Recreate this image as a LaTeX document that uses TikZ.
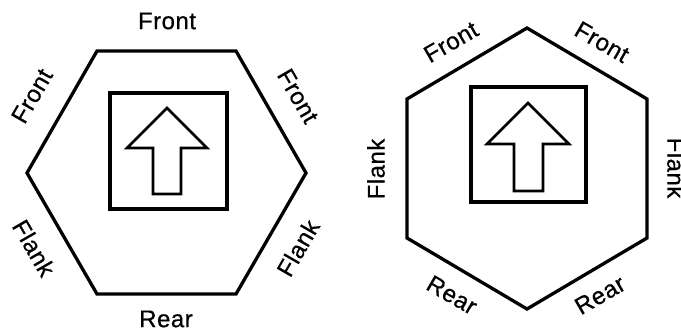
\documentclass[tikz,border=0pt]{standalone}
\usepackage{fontspec}
\setmainfont[LetterSpace=2,FakeBold=0.6]{Liberation Sans}
\usetikzlibrary{positioning}

\tikzset{
  hexline/.style={line width=3.3pt, line join=miter},
  boxline/.style={line width=3.2pt},
  arrowline/.style={line width=2.8pt, line join=miter},
  side/.style={font=\fontsize{24}{24}\selectfont, inner sep=0pt}
}

\begin{document}
\begin{tikzpicture}[x=1pt, y=-1pt]
  \useasboundingbox[fill=white] (0,0) rectangle (681,329);

  %% Left hexagon (flat top)
  \coordinate (l1) at (97,51);
  \coordinate (l2) at (236,51);
  \coordinate (l3) at (306,173);
  \coordinate (l4) at (236,294);
  \coordinate (l5) at (97,294);
  \coordinate (l6) at (27,173);
  \draw[hexline] (l1) -- (l2) -- (l3) -- (l4) -- (l5) -- (l6) -- cycle;
  \draw[boxline] (110,93) rectangle (227,209);
  \draw[arrowline] (167,108) -- (207,148) -- (181,148) -- (181,194)
    -- (153,194) -- (153,148) -- (127,148) -- cycle;

  %% Left labels
  \node[side] (lfront) at (167,21) {Front};
  \node[side, rotate=60] (lfrontl) at (32,96) {Front};
  \node[side, rotate=-60] (lfrontr) at (298,96) {Front};
  \node[side, rotate=-60] (lflankl) at (34,248) {Flank};
  \node[side, rotate=60] (lflankr) at (298,248) {Flank};
  \node[side] (lrear) at (166,319) {Rear};

  %% Right hexagon (pointed top)
  \coordinate (r1) at (527,28);
  \coordinate (r2) at (647,99);
  \coordinate (r3) at (647,238);
  \coordinate (r4) at (527,309);
  \coordinate (r5) at (407,238);
  \coordinate (r6) at (407,99);
  \draw[hexline] (r1) -- (r2) -- (r3) -- (r4) -- (r5) -- (r6) -- cycle;
  \draw[boxline] (471,87) rectangle (586,202);
  \draw[arrowline] (528,103) -- (569,144) -- (543,144) -- (543,191)
    -- (514,191) -- (514,144) -- (487,144) -- cycle;

  %% Right labels
  \node[side, rotate=30] (rfrontl) at (451,42) {Front};
  \node[side, rotate=-30] (rfrontr) at (602,42) {Front};
  \node[side, rotate=90] (rflankl) at (376,169) {Flank};
  \node[side, rotate=-90] (rflankr) at (676,168) {Flank};
  \node[side, rotate=-30] (rrearl) at (452,295) {Rear};
  \node[side, rotate=30] (rrearr) at (600,295) {Rear};
\end{tikzpicture}
\end{document}
